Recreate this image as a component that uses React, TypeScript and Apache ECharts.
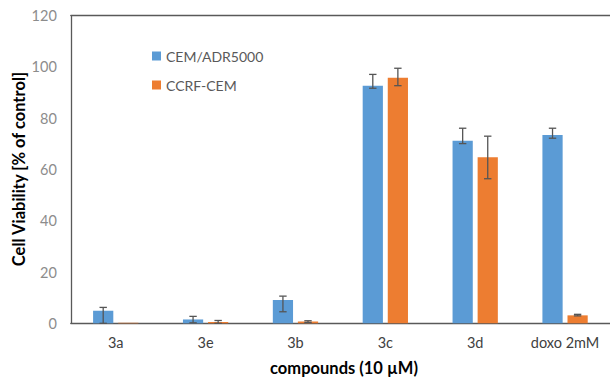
import React, { useEffect, useRef } from "react";
import * as echarts from "echarts";

const categories = ["3a", "3e", "3b", "3c", "3d", "doxo 2mM"];
const seriesNames = ["CEM/ADR5000", "CCRF-CEM"];
const cemAdr = [4.9, 1.5, 9.1, 92.7, 71.2, 73.5];
const cemAdrLow = [0, 0.2, 4.5, 91.7, 70.1, 72.2];
const cemAdrHigh = [6.2, 2.7, 10.6, 97.1, 76.1, 76.1];
const ccrf = [0.2, 0.5, 0.7, 95.8, 64.8, 3.1];
const ccrfLow = [null, 0, 0.3, 92.7, 56.4, 2.9];
const ccrfHigh = [null, 1.1, 1.0, 99.5, 73.0, 3.5];
const yTicks = [0, 120, 20];

const BLUE = "#5B9BD5";
const ORANGE = "#ED7D31";
const AXIS = "#595959";
const BAR_W = 0.225;
const BAR_GAP = 0.24;

function errData(low: (number | null)[], high: (number | null)[]) {
  const out: any[] = [];
  low.forEach((l, i) => {
    const h = high[i];
    if (l !== null && h !== null) out.push([i, l, h]);
  });
  return out;
}

function makeErr(sign: number) {
  return (params: any, api: any) => {
    const idx = api.value(0);
    const lo = api.coord([idx, api.value(1)]);
    const hi = api.coord([idx, api.value(2)]);
    const band = api.size([1, 0])[0];
    const bw = band * BAR_W;
    const off = (bw + bw * BAR_GAP) / 2;
    const x = lo[0] + sign * off;
    const cap = 3.7;
    const style = { stroke: "#555555", lineWidth: 1.3 };
    return {
      type: "group",
      children: [
        { type: "line", shape: { x1: x, y1: lo[1], x2: x, y2: hi[1] }, style },
        { type: "line", shape: { x1: x - cap, y1: hi[1], x2: x + cap, y2: hi[1] }, style },
        { type: "line", shape: { x1: x - cap, y1: lo[1], x2: x + cap, y2: lo[1] }, style },
      ],
    };
  };
}

export default function App() {
  const ref = useRef<HTMLDivElement>(null);
  useEffect(() => {
    if (!ref.current) return;
    const chart = echarts.init(ref.current, undefined, { renderer: "svg" });
    const font = "Lato, 'Open Sans', sans-serif";
    chart.setOption({
      animation: false,
      textStyle: { fontFamily: font },
      grid: { left: 70.8, top: 15.7, right: -8, bottom: 53.7, containLabel: false },
      legend: {
        orient: "vertical",
        left: 147,
        top: 44,
        itemWidth: 9,
        itemHeight: 9,
        itemGap: 15,
        icon: "rect",
        data: seriesNames,
        textStyle: { color: AXIS, fontSize: 14, fontFamily: font },
      },
      xAxis: [
        {
          type: "category",
          data: categories,
          axisLine: { show: true, lineStyle: { color: AXIS, width: 1.3 } },
          axisTick: { show: false },
          axisLabel: { color: "#404040", fontSize: 14.5, margin: 12, interval: 0, fontFamily: font },
        },
        {
          type: "category",
          data: categories,
          position: "top",
          axisLine: { show: true, lineStyle: { color: AXIS, width: 1.3 } },
          axisTick: { show: false },
          axisLabel: { show: false },
        },
      ],
      yAxis: {
        type: "value",
        min: yTicks[0],
        max: yTicks[1],
        interval: yTicks[2],
        axisLine: { show: true, lineStyle: { color: AXIS, width: 1.3 } },
        axisTick: { show: false },
        splitLine: { show: false },
        axisLabel: { color: "#8c8c8c", fontSize: 14.5, margin: 14, fontFamily: font },
      },
      graphic: [
        {
          type: "text",
          x: 19,
          y: 169,
          rotation: Math.PI / 2,
          style: {
            text: "Cell Viability [% of control]",
            fontSize: 16.5,
            fontWeight: "bold",
            fontFamily: font,
            fill: "#000",
            align: "center",
            verticalAlign: "middle",
          },
        },
        {
          type: "text",
          x: 344,
          y: 368,
          style: {
            text: "compounds (10 µM)",
            fontSize: 16.5,
            fontWeight: "bold",
            fontFamily: font,
            fill: "#000",
            align: "center",
            verticalAlign: "middle",
          },
        },
      ],
      series: [
        {
          name: seriesNames[0],
          type: "bar",
          data: cemAdr,
          barWidth: BAR_W * 100 + "%",
          barGap: BAR_GAP * 100 + "%",
          itemStyle: { color: BLUE },
        },
        {
          name: seriesNames[1],
          type: "bar",
          data: ccrf,
          barWidth: BAR_W * 100 + "%",
          barGap: BAR_GAP * 100 + "%",
          itemStyle: { color: ORANGE },
        },
        {
          type: "custom",
          renderItem: makeErr(-1),
          data: errData(cemAdrLow, cemAdrHigh),
          encode: { x: 0, y: [1, 2] },
          z: 10,
        },
        {
          type: "custom",
          renderItem: makeErr(1),
          data: errData(ccrfLow, ccrfHigh),
          encode: { x: 0, y: [1, 2] },
          z: 10,
        },
      ],
    });
    return () => chart.dispose();
  }, []);
  return (
    <div
      ref={ref}
      style={{ position: "absolute", left: 0, top: 0, width: 610, height: 377 }}
    />
  );
}
